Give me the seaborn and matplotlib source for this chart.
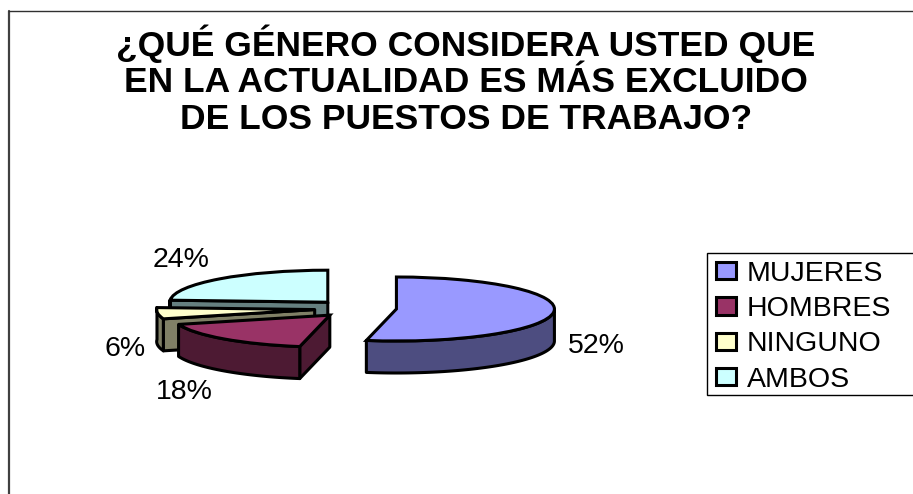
import numpy as np
import matplotlib
matplotlib.use("Agg")
import matplotlib.pyplot as plt
from matplotlib.patches import Rectangle
import seaborn as sns

TITLE = "¿QUÉ GÉNERO CONSIDERA USTED QUE\nEN LA ACTUALIDAD ES MÁS EXCLUIDO\nDE LOS PUESTOS DE TRABAJO?"
categories = ["MUJERES", "HOMBRES", "NINGUNO", "AMBOS"]
values = [52, 18, 6, 24]
labels = ["52%", "18%", "6%", "24%"]
explode = [0.25, 0.27, 0.27, 0.27]
top_colors = ["#9999FF", "#993366", "#FFFFCC", "#CCFFFF"]
wall_colors = ["#4D4D80", "#4D1A33", "#808066", "#668080"]

W, H = 913, 494
CX, CY, RX, RY = 357.0, 308.5, 158.0, 32.0   # pixel placement of the pie
DEPTH = 1.0                                  # wall height in y data units
EDGE = 2.2

sns.set_theme(style="white")
plt.rcParams["font.family"] = ["Liberation Sans", "DejaVu Sans"]
fig = plt.figure(figsize=(W / 100, H / 100), dpi=100, facecolor="white")
ax = fig.add_axes([0, 0, 1, 1])

palette = sns.color_palette(top_colors)
wedges, _ = ax.pie(values, explode=explode, colors=palette, startangle=90,
                   counterclock=False,
                   wedgeprops=dict(edgecolor="black", linewidth=EDGE))
ax.set_aspect("auto")
ax.set_xlim(-CX / RX, (W - CX) / RX)
ax.set_ylim((CY - H) / RY, CY / RY)
ax.axis("off")


def warp(theta):
    """Foreshorten the front of the tilted disc a little, as a 3-D pie does."""
    a = np.deg2rad(90 - theta)
    return theta - 3.8 * np.maximum(0.0, -np.cos(a))


for w in wedges:
    t1, t2 = warp(w.theta1), warp(w.theta2)
    w.set_theta1(t1)
    w.set_theta2(t2)


def point(w, theta):
    t = np.deg2rad(theta)
    return w.center[0] + w.r * np.cos(t), w.center[1] + w.r * np.sin(t)


def outer_wall(w, t_from, t_to, color, z):
    ts = np.deg2rad(np.linspace(t_from, t_to, 80))
    xs = w.center[0] + w.r * np.cos(ts)
    ys = w.center[1] + w.r * np.sin(ts)
    ax.fill(np.r_[xs, xs[::-1]], np.r_[ys, ys[::-1] - DEPTH], facecolor=color,
            edgecolor="black", linewidth=EDGE, joinstyle="round", zorder=z)


def cut_wall(w, theta, color, z):
    x, y = point(w, theta)
    cx, cy = w.center
    ax.fill([cx, x, x, cx], [cy, y, y - DEPTH, cy - DEPTH], facecolor=color,
            edgecolor="black", linewidth=EDGE, joinstyle="round", zorder=z)


muj, hom, nin, amb = wedges
# painted back to front
cut_wall(amb, amb.theta2, wall_colors[3], 1)
outer_wall(amb, -180, amb.theta2, wall_colors[3], 1)
amb.set_zorder(2)
outer_wall(nin, nin.theta1, nin.theta2, wall_colors[2], 3)
cut_wall(nin, nin.theta2, wall_colors[2], 3)
nin.set_zorder(4)
cut_wall(hom, hom.theta2, wall_colors[1], 5)
outer_wall(hom, hom.theta1, hom.theta2, wall_colors[1], 5)
hom.set_zorder(6)
outer_wall(muj, muj.theta1, 0, wall_colors[0], 7)
muj.set_zorder(8)

# frame of the chart area
fig.add_artist(plt.Line2D([9 / W, 9 / W], [0, 1 - 11 / H], color="#404040", lw=1.6))
fig.add_artist(plt.Line2D([9 / W, 1], [1 - 11 / H, 1 - 11 / H], color="#303030", lw=1.0))

fig.text(466 / W, 1 - 80 / H, TITLE, ha="center", va="center", fontsize=25.5,
         fontweight="bold", color="black", linespacing=1.13)

label_px = [(596.5, 346), (184, 392), (125, 349), (181, 260)]
for txt, (px, py) in zip(labels, label_px):
    fig.text(px / W, 1 - py / H, txt, ha="center", va="center", fontsize=20.5, color="black")

fig.add_artist(Rectangle((707 / W, 1 - 395 / H), 230 / W, 142 / H, transform=fig.transFigure,
                         facecolor="white", edgecolor="black", linewidth=1.0, zorder=19))
leg = ax.legend(
    handles=wedges, labels=categories, loc="upper left",
    bbox_to_anchor=(710 / W, 1 - 255 / H),
    bbox_transform=fig.transFigure,
    fontsize=20.5, frameon=False, labelcolor="black",
    borderpad=0.2, labelspacing=0.33, handlelength=0.72,
    handleheight=0.55, handletextpad=0.36, borderaxespad=0,
)
leg.set_zorder(20)
leg.remove()
fig.add_artist(leg)

fig.savefig("out.png", dpi=100, facecolor="white")
